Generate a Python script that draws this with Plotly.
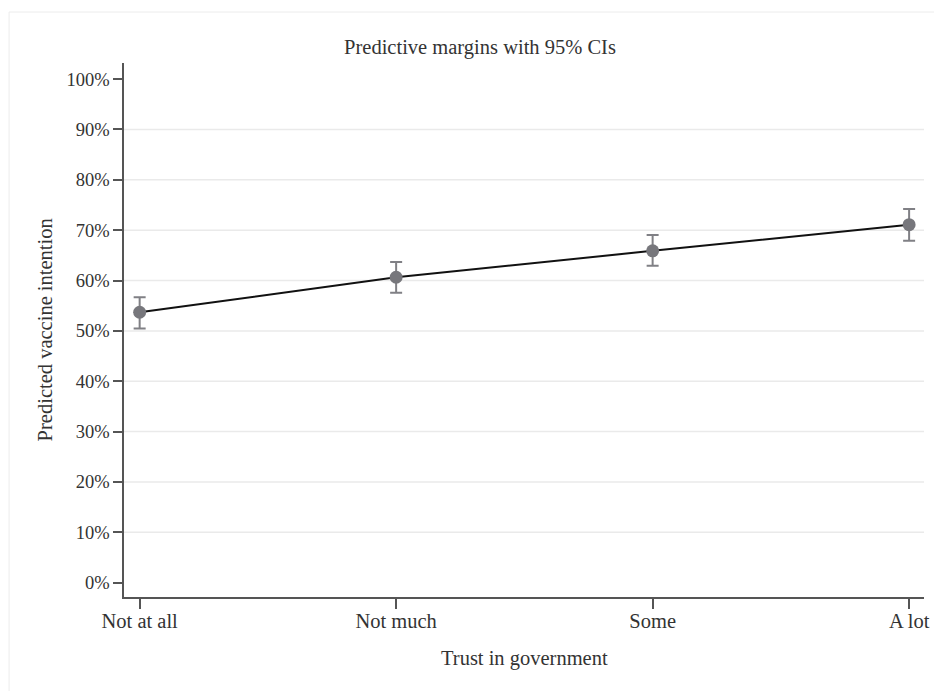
import plotly.graph_objects as go

categories = ["Not at all", "Not much", "Some", "A lot"]
margin_est = [0.537, 0.6065, 0.659, 0.711]
ci_upper = [0.567, 0.637, 0.6905, 0.742]
ci_lower = [0.505, 0.576, 0.6296, 0.679]
y_ticks = [i / 10 for i in range(11)]
y_ticklabels = [f"{i * 10}%" for i in range(11)]
grid_vals = y_ticks[1:-1]

xpos = list(range(len(categories)))
err_plus = [u - m for u, m in zip(ci_upper, margin_est)]
err_minus = [m - l for m, l in zip(margin_est, ci_lower)]

FONT = "Liberation Serif"
TXT = "#333333"

W, H = 934, 683
L, R, T, B = 116, 14, 55, 94
PW, PH = W - L - R, H - T - B

fig = go.Figure()
fig.add_trace(go.Scatter(
    x=xpos, y=margin_est, mode="lines",
    line=dict(color="#111111", width=2), hoverinfo="skip", showlegend=False))
fig.add_trace(go.Scatter(
    x=xpos, y=margin_est, mode="markers",
    marker=dict(color="#77777c", size=13),
    error_y=dict(type="data", symmetric=False, array=err_plus, arrayminus=err_minus,
                 color="#808085", thickness=2, width=6),
    showlegend=False))

shapes = []
for g in grid_vals:
    shapes.append(dict(type="line", xref="paper", yref="y", x0=0, x1=1, y0=g, y1=g,
                       line=dict(color="#eaeaea", width=1.5), layer="below"))
# outer light border
shapes.append(dict(type="rect", xref="paper", yref="paper",
                   x0=(0.5 - L) / PW, x1=1.2, y0=-0.3, y1=(T + PH - 4) / PH,
                   line=dict(color="#ececec", width=1), layer="below"))

fig.update_layout(
    width=W, height=H,
    margin=dict(l=L, r=R, t=T, b=B),
    paper_bgcolor="white", plot_bgcolor="white",
    font=dict(family=FONT, color=TXT, size=20),
    shapes=shapes,
    title=dict(text="Predictive margins with 95% CIs", x=472 / W, xref="container",
               xanchor="center", y=1 - 39 / H, yref="container", yanchor="middle",
               font=dict(family=FONT, size=20.5, color=TXT)),
    xaxis=dict(range=[-0.061, 3.058], tickvals=xpos, ticktext=categories,
               showgrid=False, zeroline=False, showline=True, linecolor="#555555",
               linewidth=1.5, ticks="outside", ticklen=10, tickwidth=1.5,
               ticklabelstandoff=-5,
               tickcolor="#555555", tickfont=dict(size=20.5, family=FONT, color=TXT)),
    yaxis=dict(range=[-0.0284, 1.032], tickvals=y_ticks, ticktext=y_ticklabels,
               showgrid=False, zeroline=False, showline=True, linecolor="#555555",
               linewidth=1.5, ticks="outside", ticklen=9, tickwidth=1.5,
               tickcolor="#555555", tickfont=dict(size=18.5, family=FONT, color=TXT)),
    annotations=[
        dict(text="Trust in government", xref="paper", yref="paper", x=0.5,
             y=(597 - 658) / PH, xanchor="center", yanchor="middle", showarrow=False,
             font=dict(size=20.5, family=FONT, color=TXT)),
        dict(text="Predicted vaccine intention", xref="paper", yref="paper",
             x=(45 - 124) / PW, y=0.5, xanchor="center", yanchor="middle",
             textangle=-90, showarrow=False,
             font=dict(size=20.5, family=FONT, color=TXT)),
    ],
)

fig.write_html("out.html")
